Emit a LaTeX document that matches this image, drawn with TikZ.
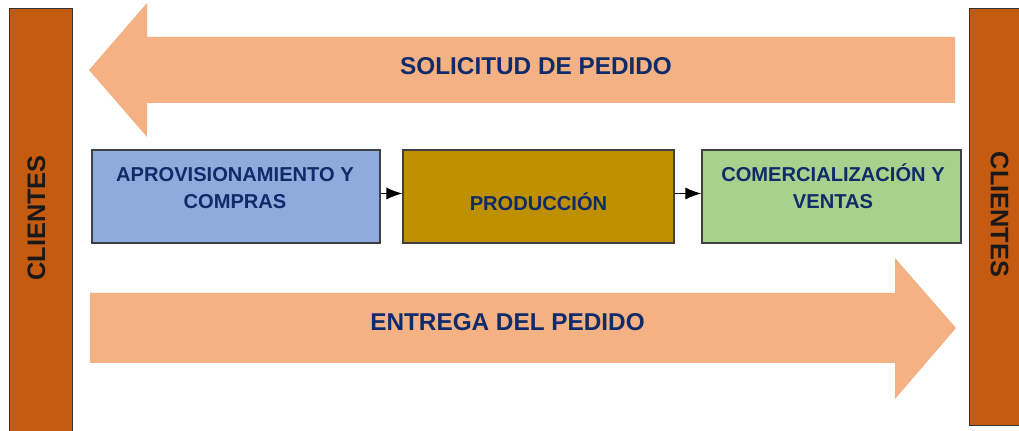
\documentclass[tikz,border=0pt]{standalone}
\usepackage{fontspec}
\setmainfont{Liberation Sans}
\usepackage{xcolor}
\usepackage{tikz}
\usetikzlibrary{positioning}
\usetikzlibrary{arrows.meta,shapes}
\usetikzlibrary{calc}
\definecolor{barcolor}{HTML}{C55A11}
\definecolor{flowcolor}{HTML}{F4B183}
\definecolor{navy}{HTML}{0F2B69}
\definecolor{aprovcolor}{HTML}{8FAADC}
\definecolor{prodcolor}{HTML}{BF9000}
\definecolor{comercolor}{HTML}{A9D18E}
\tikzstyle{bar}=[draw=black!80,fill=barcolor,line width=0.6pt]
\tikzstyle{flow}=[fill=flowcolor]
\tikzstyle{stage}=[rectangle,draw=black!75,line width=0.8pt,minimum height=2.325cm,inner sep=0pt]
\tikzstyle{link} = [draw,line width=0.8pt,-{Latex[length=4mm,width=3mm]}]
\tikzset{stagetext/.style={font=\fontsize{14.3}{19}\selectfont\bfseries,text=navy,align=center,inner sep=0pt}}
\tikzset{flowtext/.style={font=\fontsize{17.3}{20}\selectfont\bfseries,text=navy,inner sep=0pt}}
\tikzset{clientext/.style={font=\fontsize{18}{20}\selectfont\bfseries,text=black!90,inner sep=0pt}}

\begin{document}
\begin{tikzpicture}[x=0.025cm,y=-0.025cm]
    \useasboundingbox (0,0) rectangle (1019,431);
    % clientes a ambos lados
    \draw[bar] (9,8) rectangle (72,440);
    \draw[bar] (969,8) rectangle (1030,425);
    \node[clientext,rotate=90] (clientesL) at (36.5,218) {CLIENTES};
    \node[clientext,rotate=-90] (clientesR) at (999.5,214.5) {CLIENTES};

    % flechas grandes
    \fill[flow] (955,37) -- (147,37) -- (147,3) -- (89,70) -- (147,137) -- (147,103) -- (955,103) -- cycle;
    \fill[flow] (90,293) -- (895,293) -- (895,258) -- (956,328) -- (895,399) -- (895,363) -- (90,363) -- cycle;
    \node[flowtext] (solicitud) at (536,66.5) {SOLICITUD DE PEDIDO};
    \node[flowtext] (entrega) at (507.5,322.5) {ENTREGA DEL PEDIDO};

    % etapas
    \foreach \pos/\name/\col/\boxw in {{(236,196.5)/aprov/aprovcolor/7.2cm},
    {(538.5,196.5)/prod/prodcolor/6.775cm}, {(831.5,196.5)/comer/comercolor/6.475cm}}
        \node[stage,fill=\col,minimum width=\boxw] (\name) at \pos {};

    \foreach \pos/\name/\label in {{(235,188)/aprovtxt/APROVISIONAMIENTO Y\\COMPRAS},
    {(538.5,202)/prodtxt/PRODUCCIÓN}, {(833,186)/comertxt/COMERCIALIZACIÓN Y\\VENTAS}}
        \node[stagetext] (\name) at \pos {\label};

    % conexiones
    \foreach \source/\dest in {aprov/prod, prod/comer}
        \path[link] ($(\source.east)+(0,-3)$) -- ($(\dest.west)+(0,-3)$);
\end{tikzpicture}
\end{document}
